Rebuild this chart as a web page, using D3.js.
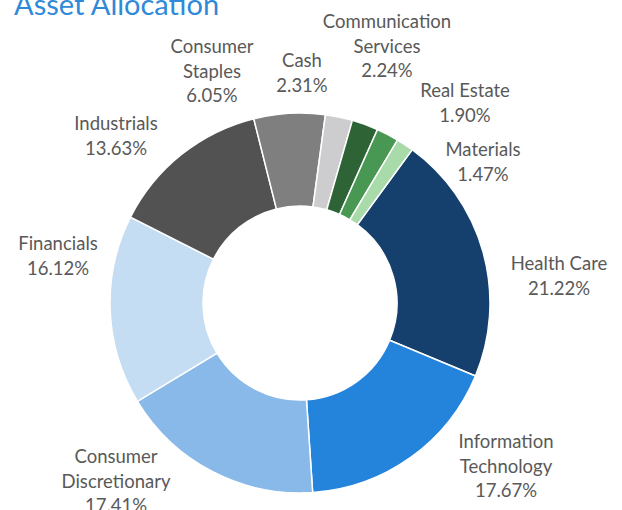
<!DOCTYPE html>
<html>
<head>
<meta charset="utf-8">
<script src="https://cdn.jsdelivr.net/npm/d3@7"></script>
<style>
  html, body { margin: 0; padding: 0; background: #fff; }
  svg { display: block; }
</style>
</head>
<body>
<script>
// sectors clockwise, starting with Health Care
const sectors = ["Health Care", "Information Technology", "Consumer Discretionary", "Financials",
  "Industrials", "Consumer Staples", "Cash", "Communication Services", "Real Estate", "Materials"];
const weights = [21.22, 17.67, 17.41, 16.12, 13.63, 6.05, 2.31, 2.24, 1.90, 1.47];

const colors = ["#15406e", "#2483da", "#88b9e9", "#c5ddf3", "#525252",
  "#7f7f7f", "#cdcdcf", "#2e6335", "#489854", "#a9daaa"];

// where the data labels sit (centre x, first baseline)
const labelAnchors = [[559, 270], [506, 448], [116, 463], [58, 250], [116, 130],
  [212, 53], [302, 67], [387, 28], [465, 97], [483, 156]];

const width = 622, height = 510;
const cx = 300, cy = 303;
const outerR = 190, innerR = 97;
const lineH = 24.5;

const svg = d3.select("body").append("svg")
  .attr("width", width)
  .attr("height", height);

svg.append("text")
  .attr("x", 14)
  .attr("y", 15)
  .attr("font-family", "Lato, sans-serif")
  .attr("font-size", 29)
  .attr("fill", "#2f89d9")
  .text("Asset Allocation");

const startA = 36.2 * Math.PI / 180;
const pie = d3.pie().sort(null).value(d => d.w)
  .startAngle(startA).endAngle(startA + 2 * Math.PI);
const arc = d3.arc().innerRadius(innerR).outerRadius(outerR);

const data = sectors.map((s, i) => ({ name: s, w: weights[i], i: i }));

const g = svg.append("g").attr("transform", `translate(${cx},${cy})`);

g.selectAll("path")
  .data(pie(data))
  .join("path")
  .attr("d", arc)
  .attr("fill", d => colors[d.data.i])
  .attr("stroke", "#fff")
  .attr("stroke-width", 1.5);

const labelLines = d => {
  const lines = d.name.length > 12 ? d.name.split(" ") : [d.name];
  return lines.concat([d.w.toFixed(2) + "%"]);
};

svg.append("g")
  .selectAll("text")
  .data(data)
  .join("text")
  .attr("font-family", "Lato, sans-serif")
  .attr("font-size", 18.5)
  .attr("fill", "#595959")
  .attr("text-anchor", "middle")
  .each(function (d) {
    const [x, y] = labelAnchors[d.i];
    d3.select(this).selectAll("tspan")
      .data(labelLines(d))
      .join("tspan")
      .attr("x", x)
      .attr("y", (t, k) => y + k * lineH)
      .text(t => t);
  });
</script>
</body>
</html>
